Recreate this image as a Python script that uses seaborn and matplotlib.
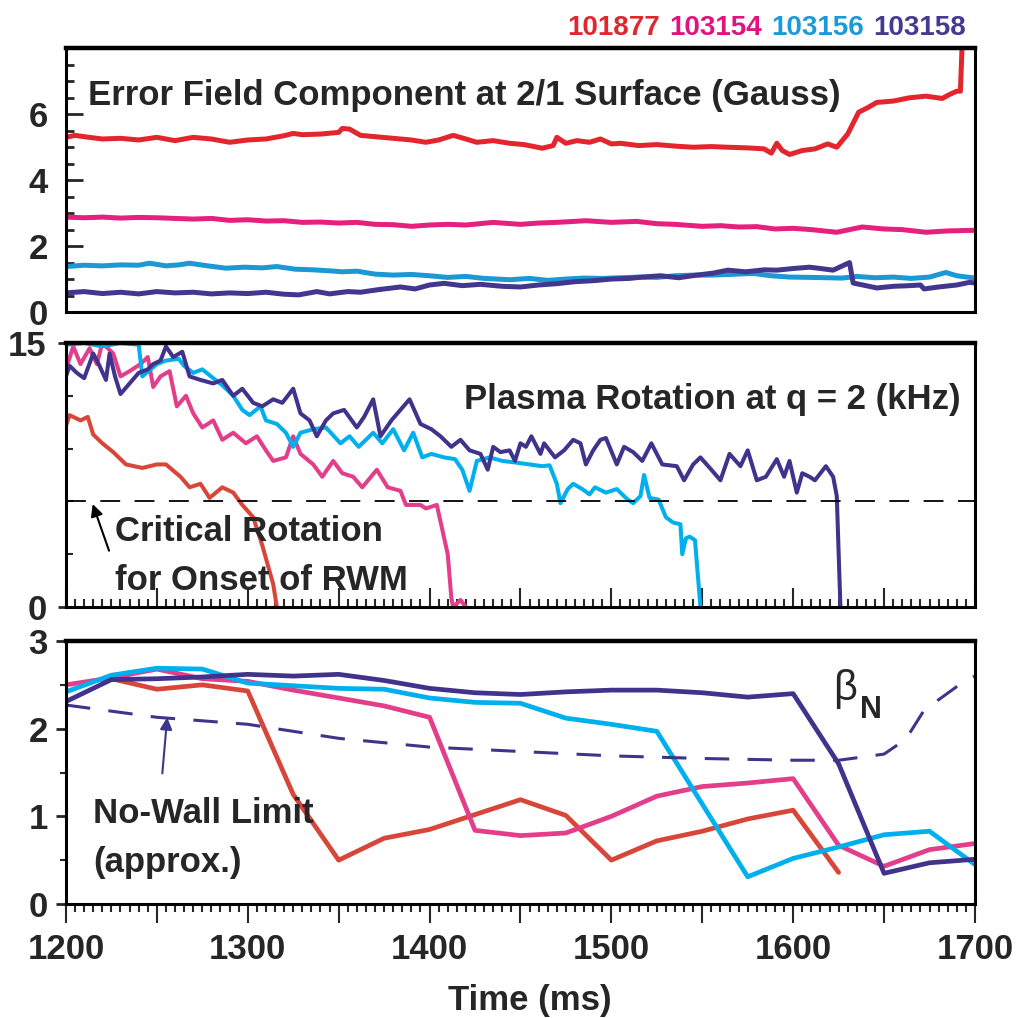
import numpy as np
import matplotlib
matplotlib.use("Agg")
import matplotlib.pyplot as plt
from matplotlib.ticker import MultipleLocator, FixedLocator, FuncFormatter
import seaborn as sns

sns.set_style("ticks")
plt.rcParams['font.family'] = ['Liberation Sans', 'DejaVu Sans']
plt.rcParams['font.weight'] = 'bold'

# ---- data: (time ms, value) ----
shots = ['101877', '103154', '103156', '103158']

# error field component at 2/1 surface (Gauss)
ef_101877 = [(1200, 5.30), (1205, 5.36), (1210, 5.32), (1220, 5.25), (1230, 5.27), (1240, 5.22), (1250, 5.30),
             (1260, 5.20), (1270, 5.30), (1280, 5.25), (1290, 5.15), (1300, 5.22), (1310, 5.25), (1320, 5.35),
             (1325, 5.42), (1330, 5.38), (1340, 5.40), (1350, 5.45), (1352, 5.57), (1356, 5.55), (1362, 5.36),
             (1370, 5.32), (1380, 5.27), (1390, 5.22), (1398, 5.15), (1405, 5.22), (1413, 5.36), (1420, 5.25),
             (1426, 5.15), (1435, 5.20), (1444, 5.12), (1452, 5.08), (1462, 4.97), (1468, 5.05), (1470, 5.30),
             (1475, 5.12), (1481, 5.20), (1488, 5.15), (1494, 5.25), (1500, 5.10), (1505, 5.12), (1515, 5.05),
             (1525, 5.08), (1536, 5.03), (1545, 5.00), (1555, 5.02), (1564, 5.00), (1575, 4.98), (1584, 4.95),
             (1588, 4.82), (1591, 5.12), (1594, 4.90), (1598, 4.78), (1605, 4.90), (1612, 4.95), (1619, 5.10),
             (1624, 5.00), (1630, 5.40), (1636, 6.06), (1641, 6.20), (1646, 6.36), (1655, 6.40), (1664, 6.50),
             (1673, 6.55), (1682, 6.48), (1686, 6.60), (1690, 6.70), (1692, 6.70), (1693, 8.20)]
ef_103154 = [(1200, 2.88), (1210, 2.86), (1220, 2.88), (1230, 2.85), (1240, 2.87), (1250, 2.86), (1260, 2.84),
             (1270, 2.82), (1280, 2.84), (1290, 2.78), (1300, 2.80), (1310, 2.76), (1320, 2.77), (1330, 2.72),
             (1340, 2.73), (1350, 2.70), (1360, 2.72), (1370, 2.66), (1380, 2.65), (1390, 2.60), (1400, 2.64),
             (1410, 2.66), (1420, 2.64), (1435, 2.72), (1450, 2.66), (1460, 2.70), (1470, 2.72), (1486, 2.77),
             (1500, 2.72), (1514, 2.75), (1525, 2.68), (1535, 2.66), (1550, 2.60), (1560, 2.62), (1570, 2.58),
             (1580, 2.59), (1590, 2.52), (1600, 2.54), (1610, 2.50), (1624, 2.42), (1638, 2.58), (1650, 2.52),
             (1660, 2.50), (1673, 2.42), (1685, 2.46), (1700, 2.48)]
ef_103156 = [(1200, 1.38), (1210, 1.42), (1220, 1.40), (1230, 1.43), (1240, 1.42), (1246, 1.48), (1255, 1.40),
             (1262, 1.43), (1268, 1.48), (1278, 1.40), (1288, 1.33), (1298, 1.36), (1308, 1.34), (1316, 1.38),
             (1326, 1.30), (1336, 1.28), (1345, 1.25), (1352, 1.22), (1360, 1.24), (1370, 1.15), (1380, 1.12),
             (1390, 1.14), (1400, 1.10), (1410, 1.05), (1420, 1.08), (1430, 1.02), (1444, 0.98), (1455, 1.02),
             (1465, 0.96), (1475, 1.00), (1485, 1.03), (1495, 1.02), (1505, 1.04), (1515, 1.06), (1525, 1.05),
             (1535, 1.10), (1545, 1.12), (1555, 1.12), (1565, 1.14), (1578, 1.17), (1588, 1.10), (1598, 1.06),
             (1610, 1.05), (1627, 1.03), (1635, 1.08), (1645, 1.04), (1655, 1.06), (1665, 1.02), (1675, 1.06),
             (1684, 1.20), (1690, 1.10), (1700, 1.03)]
ef_103158 = [(1200, 0.58), (1210, 0.62), (1220, 0.56), (1230, 0.60), (1240, 0.55), (1250, 0.62), (1260, 0.58),
             (1270, 0.60), (1280, 0.55), (1290, 0.58), (1300, 0.56), (1310, 0.60), (1320, 0.54), (1328, 0.52),
             (1338, 0.62), (1345, 0.55), (1355, 0.62), (1362, 0.60), (1372, 0.68), (1384, 0.76), (1392, 0.70),
             (1400, 0.82), (1408, 0.87), (1418, 0.80), (1428, 0.84), (1440, 0.78), (1450, 0.76), (1460, 0.82),
             (1470, 0.86), (1480, 0.92), (1490, 0.95), (1500, 1.00), (1510, 1.02), (1517, 1.06), (1527, 1.10),
             (1537, 1.04), (1547, 1.12), (1556, 1.18), (1564, 1.27), (1574, 1.22), (1584, 1.28), (1591, 1.27),
             (1600, 1.32), (1609, 1.36), (1615, 1.32), (1622, 1.27), (1631, 1.50), (1633, 0.88), (1640, 0.80),
             (1646, 0.73), (1655, 0.78), (1664, 0.80), (1670, 0.82), (1672, 0.70), (1680, 0.76), (1690, 0.82),
             (1697, 0.90), (1700, 0.88)]

# plasma rotation at q = 2 (kHz)
rot_101877 = [(1200, 10.3), (1202, 10.9), (1208, 10.6), (1212, 10.8), (1215, 9.8), (1220, 9.3), (1226, 8.8),
              (1233, 8.1), (1242, 7.9), (1250, 8.1), (1255, 8.1), (1263, 7.4), (1268, 6.8), (1274, 7.0),
              (1279, 6.2), (1286, 6.8), (1292, 6.5), (1297, 5.8), (1303, 5.1), (1308, 3.5), (1314, 1.3),
              (1316, 0.0)]
rot_103154 = [(1200, 13.5), (1204, 14.8), (1208, 13.8), (1213, 14.7), (1217, 13.8), (1220, 15.0), (1226, 14.4),
              (1230, 13.1), (1235, 13.4), (1241, 13.8), (1245, 14.2), (1248, 12.5), (1252, 13.1), (1257, 13.4),
              (1261, 11.4), (1266, 12.0), (1270, 11.0), (1275, 10.2), (1281, 10.6), (1286, 9.5), (1292, 9.9),
              (1299, 9.3), (1305, 9.7), (1310, 8.9), (1314, 8.3), (1321, 8.5), (1325, 9.7), (1329, 8.7),
              (1336, 8.1), (1341, 7.4), (1347, 8.3), (1352, 7.6), (1358, 7.4), (1363, 6.8), (1371, 7.8),
              (1377, 6.8), (1384, 6.6), (1387, 5.8), (1395, 5.8), (1398, 5.6), (1404, 5.8), (1410, 3.0),
              (1412, 0.5), (1413, 0.0), (1417, 0.4), (1420, 0.0)]
rot_103156 = [(1200, 14.9), (1210, 15.0), (1220, 14.8), (1230, 15.0), (1240, 14.9), (1242, 13.1), (1250, 13.8),
              (1255, 14.0), (1262, 14.1), (1265, 13.7), (1270, 13.3), (1275, 13.5), (1281, 13.0), (1286, 12.6),
              (1292, 12.0), (1297, 11.2), (1301, 10.9), (1307, 11.4), (1310, 10.6), (1316, 10.4), (1321, 9.9),
              (1325, 9.1), (1329, 9.9), (1336, 10.1), (1343, 10.2), (1351, 9.3), (1356, 9.7), (1361, 9.1),
              (1369, 9.9), (1374, 9.3), (1380, 10.1), (1386, 8.9), (1391, 9.9), (1396, 8.5), (1401, 8.7),
              (1408, 8.5), (1414, 8.4), (1418, 7.8), (1422, 6.6), (1426, 8.3), (1433, 8.5), (1440, 8.3),
              (1448, 8.2), (1455, 8.1), (1462, 8.0), (1466, 8.05), (1470, 7.0), (1472, 5.9), (1476, 6.7),
              (1479, 7.0), (1484, 6.7), (1488, 6.4), (1491, 6.8), (1497, 6.5), (1503, 6.7), (1509, 6.1),
              (1512, 5.9), (1516, 6.3), (1518, 7.5), (1521, 6.2), (1526, 6.1), (1530, 5.1), (1534, 4.8),
              (1538, 4.7), (1539, 3.0), (1541, 3.9), (1543, 4.0), (1546, 3.8), (1549, 0.0)]
rot_103158 = [(1200, 13.1), (1202, 13.7), (1206, 13.3), (1210, 13.0), (1215, 14.4), (1218, 13.8), (1222, 12.9),
              (1224, 14.4), (1227, 13.1), (1230, 12.1), (1235, 12.7), (1240, 13.3), (1245, 13.5), (1248, 13.8),
              (1252, 14.0), (1255, 14.8), (1259, 14.2), (1264, 14.5), (1268, 13.1), (1274, 12.9), (1281, 12.7),
              (1286, 12.9), (1292, 12.0), (1297, 12.4), (1303, 11.6), (1308, 11.4), (1314, 11.8), (1319, 11.6),
              (1325, 12.4), (1329, 11.0), (1334, 10.6), (1338, 9.7), (1343, 10.6), (1347, 11.0), (1353, 11.2),
              (1360, 10.2), (1364, 10.8), (1369, 11.8), (1373, 9.7), (1379, 10.6), (1384, 11.2), (1389, 11.8),
              (1395, 10.4), (1401, 10.1), (1406, 9.7), (1412, 9.1), (1417, 9.5), (1422, 8.9), (1428, 8.7),
              (1432, 7.8), (1435, 9.1), (1439, 8.8), (1444, 8.9), (1447, 8.3), (1450, 9.3), (1453, 9.1),
              (1456, 9.7), (1461, 8.7), (1463, 9.3), (1469, 8.5), (1474, 8.9), (1479, 9.5), (1483, 9.3),
              (1486, 8.1), (1490, 8.9), (1494, 9.5), (1497, 9.6), (1503, 8.1), (1507, 9.1), (1512, 8.8),
              (1517, 8.3), (1522, 9.3), (1528, 8.1), (1536, 8.0), (1540, 7.2), (1545, 8.1), (1549, 8.5),
              (1555, 7.8), (1560, 7.2), (1565, 8.7), (1571, 8.0), (1575, 8.9), (1580, 7.2), (1585, 7.4),
              (1591, 8.4), (1595, 7.4), (1598, 8.3), (1602, 6.5), (1605, 7.6), (1609, 7.4), (1612, 7.2),
              (1618, 8.0), (1622, 7.4), (1624, 6.3), (1626, 0.0)]
crit_rotation = 6.0

# beta_N, sampled every 25 ms
bn_101877 = [(1225, 2.57), (1250, 2.45), (1275, 2.50), (1300, 2.43), (1325, 1.25), (1350, 0.50), (1375, 0.75),
             (1400, 0.85), (1425, 1.02), (1450, 1.19), (1475, 1.01), (1500, 0.50), (1525, 0.72), (1550, 0.83),
             (1575, 0.97), (1600, 1.07), (1625, 0.36)]
bn_103154 = [(1200, 2.50), (1225, 2.58), (1250, 2.68), (1275, 2.57), (1300, 2.54), (1325, 2.44), (1350, 2.35),
             (1375, 2.26), (1400, 2.13), (1425, 0.84), (1450, 0.78), (1475, 0.81), (1500, 1.00), (1525, 1.23),
             (1550, 1.34), (1575, 1.38), (1600, 1.43), (1625, 0.67), (1650, 0.43), (1675, 0.62), (1700, 0.69)]
bn_103156 = [(1200, 2.42), (1225, 2.61), (1250, 2.69), (1275, 2.68), (1300, 2.52), (1325, 2.49), (1350, 2.46),
             (1375, 2.45), (1400, 2.35), (1425, 2.30), (1450, 2.29), (1475, 2.12), (1500, 2.05), (1525, 1.97),
             (1575, 0.31), (1600, 0.52), (1625, 0.65), (1650, 0.79), (1675, 0.83), (1700, 0.45)]
bn_103158 = [(1200, 2.31), (1225, 2.56), (1250, 2.57), (1275, 2.59), (1300, 2.62), (1325, 2.60), (1350, 2.62),
             (1375, 2.55), (1400, 2.46), (1425, 2.41), (1450, 2.39), (1475, 2.42), (1500, 2.44), (1525, 2.44),
             (1550, 2.41), (1575, 2.36), (1600, 2.40), (1625, 1.60), (1650, 0.35), (1675, 0.47), (1700, 0.51)]
no_wall_limit = [(1200, 2.27), (1250, 2.13), (1300, 2.05), (1350, 1.89), (1400, 1.79), (1450, 1.74), (1500, 1.69),
                 (1550, 1.66), (1600, 1.64), (1625, 1.64), (1650, 1.71), (1662, 1.88), (1672, 2.21), (1690, 2.48),
                 (1700, 2.60)]

label_colors = ['#E0262F', '#E2127E', '#1A9AD6', '#433A92']
top_colors = ['#E3262E', '#E6207F', '#1C98D5', '#42378F']
low_colors = ['#D8463A', '#E23E8A', '#00B0EC', '#41338C']


def draw(ax, pts, color, lw, **kw):
    t, v = zip(*pts)
    sns.lineplot(x=list(t), y=list(v), ax=ax, color=color, linewidth=lw,
                 estimator=None, sort=False, **kw)


fig = plt.figure(figsize=(10.21, 10.18), dpi=100)
ax1 = fig.add_axes([0.0646, 0.6935, 0.8903, 0.2590])
ax2 = fig.add_axes([0.0646, 0.4037, 0.8903, 0.2594])
ax3 = fig.add_axes([0.0646, 0.1120, 0.8903, 0.2583])

for ax in (ax1, ax2, ax3):
    ax.set_xlim(1200, 1700)
    for s in ax.spines.values():
        s.set_linewidth(2.2)
        s.set_color('black')
    ax.spines['top'].set_linewidth(3.2)

# top panel: error field
for pts, c in zip([ef_101877, ef_103154, ef_103156, ef_103158], top_colors):
    draw(ax1, pts, c, 3.6)
ax1.set_ylim(0, 8)
ax1.yaxis.set_major_locator(FixedLocator([0, 2, 4, 6]))
ax1.yaxis.set_minor_locator(MultipleLocator(0.5))
ax1.tick_params(axis='y', which='major', direction='in', length=12, width=2, pad=13, labelsize=25)
ax1.tick_params(axis='y', which='minor', direction='in', length=6, width=2)
ax1.tick_params(axis='x', which='both', bottom=False, labelbottom=False)
ax1.text(1212, 6.27, 'Error Field Component at 2/1 Surface (Gauss)', fontsize=25, fontweight='bold',
         va='baseline', ha='left')

# middle panel: rotation
for pts, c in zip([rot_101877, rot_103154, rot_103156, rot_103158], low_colors):
    draw(ax2, pts, c, 2.9)
ax2.axhline(crit_rotation, color='black', lw=1.3, ls=(0, (11, 8)))
ax2.set_ylim(0, 15)
ax2.yaxis.set_major_locator(FixedLocator([0, 15]))
ax2.yaxis.set_minor_locator(FixedLocator([3, 6, 9, 12]))
ax2.tick_params(axis='y', which='major', direction='out', length=6, width=2, pad=8, labelsize=25)
ax2.tick_params(axis='y', which='minor', direction='in', length=5, width=1.5)
ax2.xaxis.set_major_locator(MultipleLocator(50))
ax2.xaxis.set_minor_locator(MultipleLocator(5))
ax2.tick_params(axis='x', which='major', direction='in', length=14, width=1.5, labelbottom=False)
ax2.tick_params(axis='x', which='minor', direction='in', length=6, width=1.5)
ax2.text(1692, 11.26, 'Plasma Rotation at q = 2 (kHz)', fontsize=25, fontweight='bold',
         va='baseline', ha='right')
ax2.text(1227, 3.77, 'Critical Rotation', fontsize=25, fontweight='bold', va='baseline', ha='left')
ax2.text(1227, 0.97, 'for Onset of RWM', fontsize=25, fontweight='bold', va='baseline', ha='left')
ax2.annotate('', xy=(1214.7, 5.85), xytext=(1223.7, 3.2),
             arrowprops=dict(arrowstyle='-|>', color='black', lw=1.5, mutation_scale=18,
                             shrinkA=0, shrinkB=0))

# bottom panel: beta_N
for pts, c in zip([bn_101877, bn_103154, bn_103156, bn_103158], low_colors):
    draw(ax3, pts, c, 3.4)
draw(ax3, no_wall_limit, '#3D3589', 2.2, linestyle=(0, (8, 6)))
ax3.set_ylim(0, 3)
ax3.yaxis.set_major_locator(FixedLocator([0, 1, 2, 3]))
ax3.yaxis.set_minor_locator(MultipleLocator(0.5))
ax3.tick_params(axis='y', which='major', direction='out', length=7, width=2, pad=6, labelsize=25)
ax3.tick_params(axis='y', which='minor', direction='out', length=4, width=1.5)
ax3.xaxis.set_major_locator(MultipleLocator(50))
ax3.xaxis.set_minor_locator(MultipleLocator(5))
ax3.xaxis.set_major_formatter(FuncFormatter(lambda v, p: f'{v:.0f}' if round(v) % 100 == 0 else ''))
ax3.tick_params(axis='x', which='major', direction='out', length=14, width=1.5, pad=7, labelsize=25)
ax3.tick_params(axis='x', which='minor', direction='out', length=6, width=1.5)
ax3.text(1622, 2.33, 'β', fontsize=30, fontweight='normal', va='baseline', ha='left')
ax3.text(1637, 2.12, 'N', fontsize=22, fontweight='bold', va='baseline', ha='left')
ax3.text(1215, 0.92, 'No-Wall Limit', fontsize=25, fontweight='bold', va='baseline', ha='left')
ax3.text(1215, 0.36, '(approx.)', fontsize=25, fontweight='bold', va='baseline', ha='left')
ax3.annotate('', xy=(1255.7, 2.13), xytext=(1253, 1.49),
             arrowprops=dict(arrowstyle='-|>', color='#3D3589', lw=1.5, mutation_scale=18,
                             shrinkA=0, shrinkB=0))

for lab in ax1.get_yticklabels() + ax2.get_yticklabels() + ax3.get_yticklabels() + ax3.get_xticklabels():
    lab.set_fontweight('bold')

fig.text(0.519, 0.0079, 'Time (ms)', fontsize=25, fontweight='bold', ha='center', va='baseline')

# shot numbers as a coloured legend line at the top
shot_x = [567, 669, 771, 873]
for name, c, x in zip(shots, label_colors, shot_x):
    fig.text(x / 1021, 1 - 35 / 1018, name, fontsize=20, fontweight='bold', color=c,
             ha='left', va='baseline')

fig.savefig('out.png', dpi=100)
